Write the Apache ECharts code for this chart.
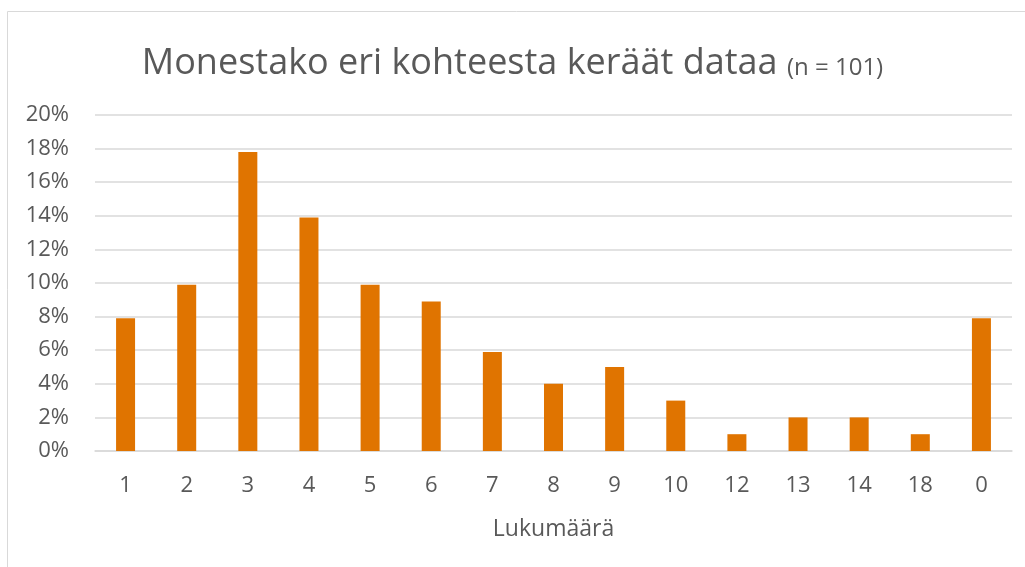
<!DOCTYPE html>
<html>
<head>
<meta charset="utf-8">
<script src="https://cdn.jsdelivr.net/npm/echarts@6/dist/echarts.min.js"></script>
<style>
  html, body { margin: 0; padding: 0; background: #fff; }
  #chart { width: 1025px; height: 567px; }
</style>
</head>
<body>
<div id="chart"></div>
<script>
// kategoriat ja osuudet (%)
var categories = ['1', '2', '3', '4', '5', '6', '7', '8', '9', '10', '12', '13', '14', '18', '0'];
var shares = [7.9, 9.9, 17.8, 13.9, 9.9, 8.9, 5.9, 4.0, 5.0, 3.0, 1.0, 2.0, 2.0, 1.0, 7.9];

var myChart = echarts.init(document.getElementById('chart'));

var font = '"Open Sans", "Noto Sans", sans-serif';

var option = {
    animation: false,
    graphic: [{
        type: 'rect',
        shape: { x: 7.5, y: 11.5, width: 1100, height: 600 },
        style: { fill: 'none', stroke: '#d9d9d9', lineWidth: 1 },
        silent: true
    }],
    title: {
        text: '{a|Monestako eri kohteesta keräät dataa }{b|(n = 101)}',
        left: 'center',
        top: 36,
        textStyle: {
            fontWeight: 'normal',
            rich: {
                a: { fontSize: 36, color: '#595959', fontFamily: font, fontWeight: 'normal', lineHeight: 46 },
                b: { fontSize: 24, color: '#595959', fontFamily: font, fontWeight: 'normal', lineHeight: 46, padding: [8, 0, 0, 0] }
            }
        }
    },
    grid: {
        left: 95,
        right: 13,
        top: 115,
        bottom: 116,
        containLabel: false
    },
    xAxis: {
        type: 'category',
        data: categories,
        name: 'Lukumäärä',
        nameLocation: 'middle',
        nameGap: 67,
        nameTextStyle: { fontSize: 23, color: '#595959', fontFamily: font },
        axisLine: { lineStyle: { color: '#d9d9d9', width: 1.5 } },
        axisTick: { show: false },
        axisLabel: { fontSize: 22, color: '#595959', fontFamily: font, margin: 24 }
    },
    yAxis: {
        type: 'value',
        min: 0,
        max: 20,
        interval: 2,
        axisLine: { show: false },
        axisTick: { show: false },
        axisLabel: {
            formatter: '{value}%',
            fontSize: 22,
            color: '#595959',
            fontFamily: font,
            margin: 26
        },
        splitLine: { lineStyle: { color: '#d9d9d9', width: 1.5 } }
    },
    series: [{
        type: 'bar',
        data: shares,
        barWidth: 19,
        itemStyle: { color: '#E07400' }
    }]
};

myChart.setOption(option);
</script>
</body>
</html>
